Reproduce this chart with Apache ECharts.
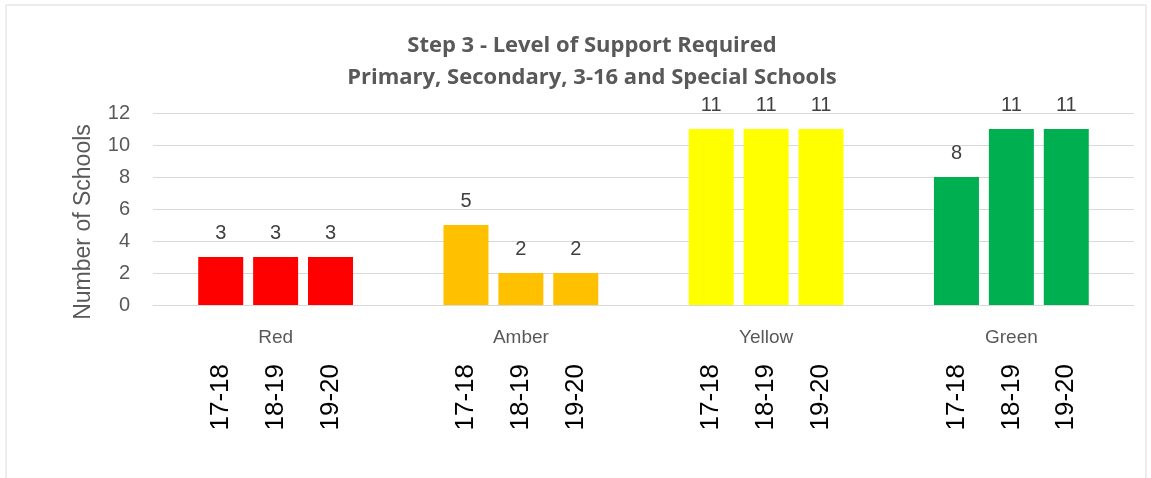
<!DOCTYPE html>
<html>
<head>
<meta charset="utf-8">
<script src="https://cdn.jsdelivr.net/npm/echarts@6/dist/echarts.min.js"></script>
<style>
  html, body { margin: 0; padding: 0; background: #fff; }
  #chart { width: 1151px; height: 478px; }
</style>
</head>
<body>
<div id="chart"></div>
<script>
// categories and values
const categories = ['Red', 'Amber', 'Yellow', 'Green'];
const years = ['17-18', '18-19', '19-20'];
const values1718 = [3, 5, 11, 8];
const values1819 = [3, 2, 11, 11];
const values1920 = [3, 2, 11, 11];
const groupColours = ['#FF0000', '#FFC000', '#FFFF00', '#00B050'];
const yTicks = [0, 2, 4, 6, 8, 10, 12];

const seriesValues = [values1718, values1819, values1920];

const chart = echarts.init(document.getElementById('chart'));

function coloured(vals) {
  return vals.map((v, i) => ({ value: v, itemStyle: { color: groupColours[i] } }));
}

const barSeries = years.map((y, k) => ({
  name: y,
  type: 'bar',
  xAxisIndex: 0,
  yAxisIndex: 0,
  barWidth: 45,
  barGap: '22%',
  data: coloured(seriesValues[k]),
  label: {
    show: true,
    position: 'top',
    distance: 14,
    color: '#404040',
    fontSize: 20,
    fontFamily: 'Liberation Sans'
  }
}));

// invisible twins that only carry the rotated year labels under the axis
const yearSeries = years.map((y, k) => ({
  name: y + ' label',
  type: 'bar',
  xAxisIndex: 1,
  yAxisIndex: 1,
  barWidth: 45,
  barGap: '22%',
  silent: true,
  data: seriesValues[k],
  itemStyle: { color: 'rgba(0,0,0,0)' },
  label: {
    show: true,
    position: 'bottom',
    distance: 59,
    rotate: 90,
    align: 'right',
    verticalAlign: 'middle',
    formatter: y,
    color: '#000',
    fontSize: 26,
    fontFamily: 'Liberation Sans'
  }
}));

const option = {
  animation: false,
  title: {
    text: 'Step 3 - Level of Support Required\nPrimary, Secondary, 3-16 and Special Schools',
    left: 587,
    textAlign: 'center',
    top: 25,
    textStyle: {
      color: '#595959',
      fontSize: 22,
      fontWeight: 'bold',
      fontFamily: 'Open Sans',
      lineHeight: 32
    }
  },
  graphic: [{
    type: 'rect',
    shape: { x: 6, y: 5, width: 1140, height: 500 },
    style: { fill: 'none', stroke: '#d9d9d9', lineWidth: 1 },
    silent: true
  }],
  grid: { left: 153, right: 17, top: 113, bottom: 173, containLabel: false },
  xAxis: [{
    type: 'category',
    data: categories,
    axisLine: { lineStyle: { color: '#d9d9d9' } },
    axisTick: { show: false },
    axisLabel: { color: '#595959', fontSize: 19, margin: 23, fontFamily: 'Liberation Sans' }
  }, {
    type: 'category',
    data: categories,
    show: false
  }],
  yAxis: [{
    type: 'value',
    min: yTicks[0],
    max: yTicks[yTicks.length - 1],
    interval: 2,
    name: 'Number of Schools',
    nameLocation: 'middle',
    nameGap: 58,
    nameTextStyle: { color: '#595959', fontSize: 23, fontFamily: 'Liberation Sans', padding: [0, 26, 0, 0] },
    axisLine: { show: false },
    axisTick: { show: false },
    splitLine: { lineStyle: { color: '#d9d9d9' } },
    axisLabel: { color: '#595959', fontSize: 20, margin: 23, fontFamily: 'Liberation Sans' }
  }, {
    type: 'value',
    min: yTicks[0],
    max: yTicks[yTicks.length - 1],
    show: false
  }],
  series: barSeries.concat(yearSeries)
};

chart.setOption(option);
</script>
</body>
</html>
